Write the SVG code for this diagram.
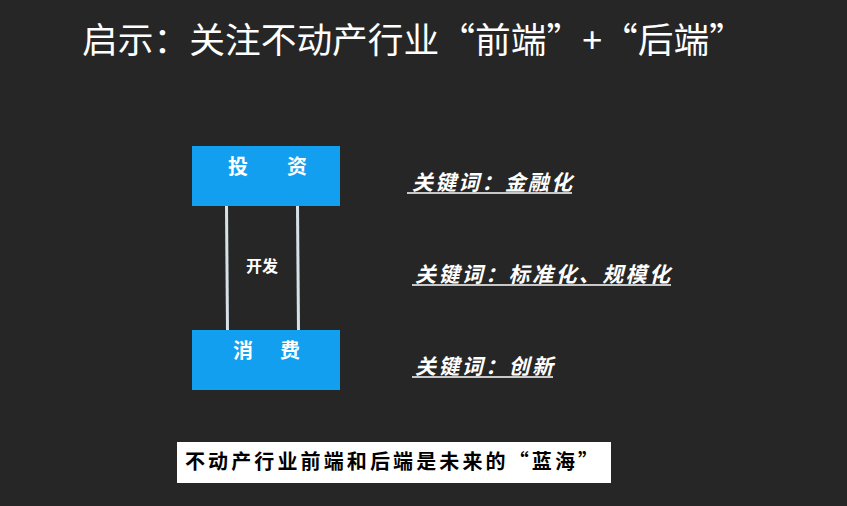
<svg xmlns="http://www.w3.org/2000/svg" width="847" height="506" viewBox="0 0 847 506">
<style>
.title{font-family:"Noto Sans CJK SC","Liberation Sans",sans-serif;font-size:35px;fill:#ffffff}
.box{fill:#139ff0}
.bt{font-family:"Noto Sans CJK SC","Liberation Serif",serif;font-size:20px;font-weight:bold;fill:#ffffff;text-anchor:middle}
.kw{font-family:"Noto Sans CJK SC","Liberation Serif",serif;font-size:21px;font-weight:bold;font-style:italic;fill:#ffffff}
.ul{stroke:#ffffff;stroke-width:1.5}
.conn{stroke:#d6e2e8;stroke-width:3;fill:none}
</style>
<rect x="0" y="0" width="847" height="506" fill="#262626"/>
<text class="title" x="82" y="53" textLength="663" lengthAdjust="spacingAndGlyphs">启示：关注不动产行业“前端”+“后端”</text>
<g id="connectors">
<line class="conn" x1="226.5" y1="205" x2="227.5" y2="332"/>
<line class="conn" x1="297.5" y1="205" x2="298.5" y2="332"/>
<text x="262" y="272" style="font-family:'Noto Sans CJK SC',serif;font-size:16px;font-weight:bold;fill:#ffffff;text-anchor:middle">开发</text>
</g>
<g id="invest">
<rect class="box" x="192" y="146" width="148" height="60"/>
<text class="bt" x="238" y="174">投</text>
<text class="bt" x="297" y="174">资</text>
</g>
<g id="consume">
<rect class="box" x="192" y="330" width="148" height="60"/>
<text class="bt" x="243" y="358">消</text>
<text class="bt" x="290" y="358">费</text>
</g>
<g id="kw1">
<text class="kw" x="412" y="190" textLength="160" lengthAdjust="spacing">关键词：金融化</text>
<line class="ul" x1="407" y1="193" x2="572" y2="193"/>
</g>
<g id="kw2">
<text class="kw" x="415" y="282" textLength="255" lengthAdjust="spacing">关键词：标准化、规模化</text>
<line class="ul" x1="412" y1="285" x2="671" y2="285"/>
</g>
<g id="kw3">
<text class="kw" x="415" y="374" textLength="138" lengthAdjust="spacing">关键词：创新</text>
<line class="ul" x1="412" y1="377" x2="553" y2="377"/>
</g>
<g id="bluesea">
<rect x="177" y="442" width="434" height="41" fill="#ffffff"/>
<text x="185" y="469" textLength="413" lengthAdjust="spacing" style="font-family:'Noto Sans CJK SC',serif;font-size:20px;font-weight:bold;fill:#000000">不动产行业前端和后端是未来的“蓝海”</text>
</g>
</svg>
